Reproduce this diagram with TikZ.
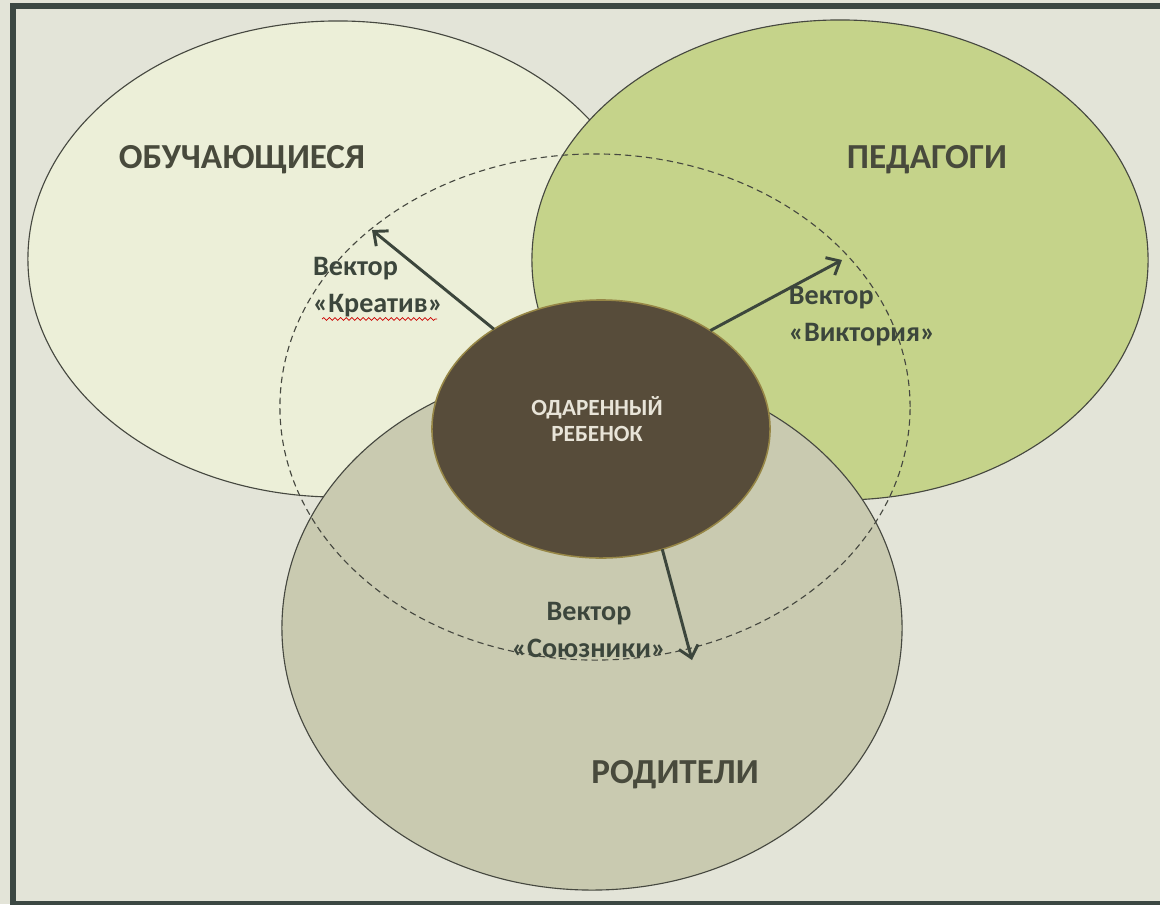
\documentclass[tikz,border=0pt]{standalone}
\usepackage{fontspec}
\setmainfont{Carlito}
\usetikzlibrary{shapes.geometric,arrows.meta,decorations.pathmorphing}

\definecolor{bgcol}{RGB}{227,228,216}
\definecolor{framecol}{RGB}{60,72,67}
\definecolor{learncol}{RGB}{236,239,216}
\definecolor{teachcol}{RGB}{197,211,138}
\definecolor{parentcol}{RGB}{201,202,176}
\definecolor{childcol}{RGB}{87,76,58}
\definecolor{childline}{RGB}{150,134,70}
\definecolor{linecol}{RGB}{70,72,64}
\definecolor{headcol}{RGB}{72,74,60}
\definecolor{veccol}{RGB}{60,70,60}
\definecolor{childtext}{RGB}{232,228,216}

\begin{document}
\begin{tikzpicture}[x=0.025cm,y=-0.025cm,
    group/.style={ellipse,draw=linecol,line width=0.8pt,inner sep=0pt,outer sep=0pt},
    heading/.style={font=\bfseries\fontsize{25}{30}\selectfont,text=headcol},
    vec/.style={font=\bfseries\fontsize{20}{26}\selectfont,text=veccol,align=left}]
    \useasboundingbox (0,0) rectangle (1160,904);
    \fill[bgcol] (0,0) rectangle (1160,904);
    \draw[framecol,line width=4.3pt] (13,6) rectangle (1172,904);
    %% Draw the three groups
    \node[group,fill=learncol,minimum width=15.5cm,minimum height=11.9cm] (learn) at (338,259) {};
    \node[group,fill=teachcol,minimum width=15.4cm,minimum height=12cm] (teach) at (840,260) {};
    \node[group,fill=parentcol,minimum width=15.5cm,minimum height=13.1cm] (parent) at (592,628) {};
    \node[group,dash pattern=on 4.5pt off 3pt,minimum width=15.75cm,minimum height=12.65cm] (zone) at (595,407) {};
    %% Draw the child in the middle
    \node[group,draw=childline,line width=1.1pt,fill=childcol,minimum width=8.45cm,minimum height=6.45cm] (child) at (601,429) {};
    \node[font=\bfseries\fontsize{16.5}{19}\selectfont,text=childtext,align=center] (childlabel) at (597,419) {ОДАРЕННЫЙ\\РЕБЕНОК};
    %% Draw the group names
    \node[heading] (learnlabel) at (242,160) {ОБУЧАЮЩИЕСЯ};
    \node[heading] (teachlabel) at (927,160) {ПЕДАГОГИ};
    \node[heading] (parentlabel) at (675,775) {РОДИТЕЛИ};
    %% Draw the vector labels
    \node[vec] (kreativlabel) at (378,287) {Вектор\\«Креатив»};
    \node[vec] (viktorlabel) at (862,316) {Вектор\\«Виктория»};
    \node[vec,align=center] (soyuzlabel) at (589,630) {Вектор\\«Союзники»};
    \draw[red!80!black,line width=0.5pt,decorate,decoration={snake,amplitude=1pt,segment length=4pt}] (322,319) -- (437,319);
    %% Draw the vectors
    \coordinate (kreativ) at (372,230);
    \coordinate (viktor) at (842,260);
    \coordinate (soyuz) at (692,660);
    \begin{scope}[every path/.style={draw=veccol,line width=2.1pt,-{Straight Barb[length=8pt,width=14pt]}}]
      \draw (child.137) -- (kreativ);
      \draw (child.42) -- (viktor);
      \draw (child.-63) -- (soyuz);
    \end{scope}
\end{tikzpicture}
\end{document}
